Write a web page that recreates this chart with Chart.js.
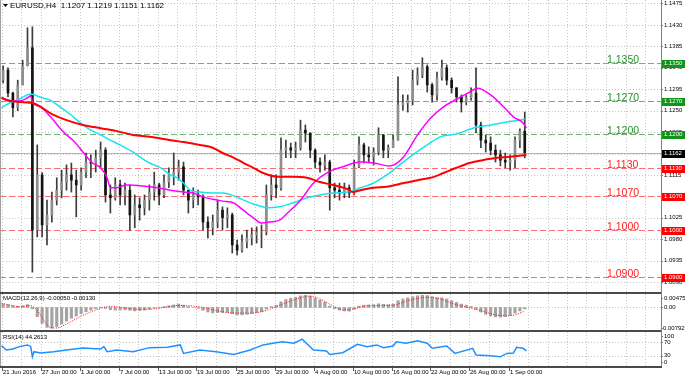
<!DOCTYPE html>
<html><head><meta charset="utf-8">
<script src="https://cdn.jsdelivr.net/npm/chart.js@4.4.1/dist/chart.umd.min.js"></script>
<style>
html,body{margin:0;padding:0;background:#fff;overflow:hidden}
#wrap{position:relative;width:685px;height:377px;background:#fff}
canvas{position:absolute;left:0}
</style></head><body>
<div id="wrap">
<canvas id="cMain" style="top:0px" width="685" height="294"></canvas>
<canvas id="cMacd" style="top:294px" width="685" height="38"></canvas>
<canvas id="cRsi" style="top:332px" width="685" height="45"></canvas>
</div>
<script>
// ---------------- DATA ----------------
const symbolTitle = 'EURUSD,H4  1.1207 1.1219 1.1151 1.1162';
const macdTitle = 'MACD(12,26,9) -0.00050 -0.00130';
const rsiTitle = 'RSI(14) 44.2613';

// 12-hour candles (3 H4 bars each), 21 Jun 2016 -> 2 Sep 2016
const opens = [1.1314,1.1335,1.1287,1.1256,1.1304,1.1344,1.1382,1.0999,1.1115,1.1010,
 1.1031,1.1062,1.1083,1.1100,1.1115,1.1104,1.1094,1.1121,1.1142,1.1140,
 1.1151,1.1167,1.1073,1.1067,1.1094,1.1073,1.1083,1.1031,1.1052,1.1046,
 1.1062,1.1079,1.1094,1.1073,1.1100,1.1115,1.1121,1.1132,1.1083,1.1062,
 1.1073,1.1069,1.1016,1.1004,1.1016,1.1041,1.1025,1.1031,1.0968,1.0957,
 1.0974,1.0983,1.0989,1.0995,1.0995,1.1073,1.1094,1.1088,1.1167,1.1172,
 1.1167,1.1172,1.1209,1.1203,1.1167,1.1142,1.1136,1.1142,1.1088,1.1083,
 1.1077,1.1088,1.1077,1.1132,1.1178,1.1157,1.1153,1.1163,1.1199,1.1167,
 1.1172,1.1188,1.1262,1.1266,1.1272,1.1314,1.1325,1.1342,1.1304,1.1283,
 1.1319,1.1340,1.1314,1.1298,1.1279,1.1268,1.1277,1.1287,1.1220,1.1188,
 1.1182,1.1167,1.1157,1.1146,1.1142,1.1146,1.1188,1.1207];
const highs = [1.1344,1.1340,1.1289,1.1314,1.1356,1.1424,1.1426,1.1178,1.1120,1.1062,
 1.1079,1.1109,1.1125,1.1136,1.1140,1.1125,1.1130,1.1161,1.1157,1.1167,
 1.1184,1.1172,1.1094,1.1109,1.1104,1.1098,1.1094,1.1073,1.1067,1.1073,
 1.1094,1.1121,1.1098,1.1115,1.1130,1.1161,1.1146,1.1142,1.1083,1.1088,
 1.1083,1.1073,1.1027,1.1031,1.1062,1.1048,1.1046,1.1035,1.0978,1.0989,
 1.0999,1.1004,1.1006,1.1010,1.1094,1.1115,1.1115,1.1193,1.1188,1.1182,
 1.1184,1.1230,1.1220,1.1203,1.1170,1.1151,1.1157,1.1146,1.1098,1.1098,
 1.1098,1.1094,1.1146,1.1195,1.1182,1.1174,1.1172,1.1214,1.1199,1.1178,
 1.1199,1.1321,1.1283,1.1283,1.1335,1.1340,1.1361,1.1346,1.1308,1.1331,
 1.1356,1.1346,1.1319,1.1298,1.1283,1.1283,1.1298,1.1340,1.1226,1.1199,
 1.1195,1.1178,1.1167,1.1161,1.1157,1.1195,1.1212,1.1247];
const lows = [1.1308,1.1279,1.1237,1.1250,1.1304,1.1344,1.0911,1.0985,1.0985,1.0968,
 1.1016,1.1052,1.1067,1.1083,1.1079,1.1027,1.1083,1.1109,1.1109,1.1121,
 1.1130,1.1058,1.1035,1.1062,1.1052,1.1052,1.0999,1.1004,1.1020,1.1031,
 1.1041,1.1062,1.1052,1.1067,1.1088,1.1094,1.1104,1.1073,1.1035,1.1046,
 1.1052,1.0999,1.0983,1.0989,1.1004,1.0999,1.1004,1.0951,1.0947,1.0953,
 1.0962,1.0968,1.0972,1.0962,1.0989,1.1062,1.1067,1.1083,1.1151,1.1151,
 1.1151,1.1167,1.1184,1.1151,1.1130,1.1121,1.1125,1.1041,1.1067,1.1062,
 1.1067,1.1067,1.1073,1.1130,1.1140,1.1142,1.1136,1.1157,1.1151,1.1151,
 1.1172,1.1188,1.1251,1.1247,1.1262,1.1304,1.1319,1.1289,1.1268,1.1272,
 1.1314,1.1304,1.1287,1.1268,1.1247,1.1262,1.1272,1.1203,1.1172,1.1163,
 1.1157,1.1142,1.1134,1.1130,1.1125,1.1130,1.1172,1.1151];
const closes = [1.1335,1.1287,1.1256,1.1304,1.1344,1.1382,1.0999,1.1115,1.1010,1.1031,
 1.1062,1.1083,1.1100,1.1115,1.1104,1.1094,1.1121,1.1142,1.1140,1.1151,
 1.1167,1.1073,1.1067,1.1094,1.1073,1.1083,1.1031,1.1052,1.1046,1.1062,
 1.1079,1.1094,1.1073,1.1100,1.1115,1.1121,1.1132,1.1083,1.1062,1.1073,
 1.1069,1.1016,1.1004,1.1016,1.1041,1.1025,1.1031,1.0968,1.0957,1.0974,
 1.0983,1.0989,1.0995,1.0995,1.1073,1.1094,1.1088,1.1167,1.1172,1.1167,
 1.1172,1.1209,1.1203,1.1167,1.1142,1.1136,1.1142,1.1088,1.1083,1.1077,
 1.1088,1.1077,1.1132,1.1178,1.1157,1.1153,1.1163,1.1199,1.1167,1.1172,
 1.1188,1.1262,1.1266,1.1272,1.1314,1.1325,1.1342,1.1304,1.1283,1.1319,
 1.1340,1.1314,1.1298,1.1279,1.1268,1.1277,1.1287,1.1220,1.1188,1.1182,
 1.1167,1.1157,1.1146,1.1142,1.1146,1.1188,1.1207,1.1162];

// moving averages, sampled at H4 bar indices
const slowMaBars = [0,5,19,32,40,50,61,71,81,91,104,112,122,130,136,143,149,155,161,171,179,188,196,204,213,216,221,229,237,245,256,264,272,280,288,296,305,313,323];
const slowMaVals = [1.1277,1.1270,1.1266,1.1241,1.1230,1.1220,1.1213,1.1207,1.1199,1.1195,1.1188,1.1184,1.1178,1.1172,1.1161,1.1151,1.1140,1.1130,1.1119,1.1111,1.1111,1.1109,1.1100,1.1094,1.1085,1.1079,1.1083,1.1088,1.1090,1.1096,1.1104,1.1109,1.1119,1.1130,1.1140,1.1146,1.1151,1.1153,1.1157];
const midMaBars = [0,5,11,18,24,30,36,42,48,55,61,67,73,81,85,91,98,104,108,112,116,122,130,136,143,149,155,161,163,171,179,188,196,204,213,221,229,237,245,253,262,270,280,290,301,311,322];
const midMaVals = [1.1256,1.1266,1.1274,1.1285,1.1278,1.1272,1.1258,1.1243,1.1226,1.1209,1.1199,1.1188,1.1178,1.1163,1.1153,1.1140,1.1130,1.1115,1.1109,1.1098,1.1083,1.1079,1.1077,1.1077,1.1071,1.1062,1.1054,1.1048,1.1046,1.1048,1.1056,1.1067,1.1073,1.1077,1.1079,1.1088,1.1098,1.1115,1.1136,1.1157,1.1178,1.1195,1.1201,1.1213,1.1220,1.1226,1.1232];
const fastMaBars = [0,5,11,16,18,19,24,28,32,36,40,44,48,53,56,61,65,67,71,77,87,96,104,112,118,124,130,136,143,147,151,155,160,165,171,176,184,192,200,210,221,229,239,247,256,264,272,280,288,293,301,309,315,321,323];
const fastMaVals = [1.1277,1.1272,1.1270,1.1277,1.1281,1.1268,1.1258,1.1245,1.1230,1.1213,1.1199,1.1188,1.1172,1.1151,1.1140,1.1130,1.1109,1.1088,1.1088,1.1094,1.1092,1.1088,1.1083,1.1079,1.1077,1.1069,1.1064,1.1060,1.1056,1.1046,1.1035,1.1025,1.1014,1.1016,1.1020,1.1035,1.1062,1.1098,1.1119,1.1132,1.1142,1.1140,1.1134,1.1151,1.1199,1.1234,1.1258,1.1274,1.1289,1.1297,1.1283,1.1258,1.1237,1.1224,1.1213];

// horizontal levels
const levelValues = [1.1350,1.1270,1.1200,1.1130,1.1070,1.1000,1.0900];
const levelKinds = ['res','res','res','sup','sup','sup','sup'];

// price axis
const priceTicks = [1.1475,1.1430,1.1385,1.1340,1.1295,1.1250,1.1205,1.1160,1.1115,1.1070,1.1025,1.0980,1.0935,1.0890];
const priceTop = 1.14823, priceBottom = 1.08692;

// MACD (one value per candle) and signal
const macdMain = [0.0012,0.0010,0.0006,0.0004,0.0006,0.0010,-0.0005,-0.0032,-0.0056,-0.0070,
 -0.0073,-0.0067,-0.0058,-0.0048,-0.0038,-0.0030,-0.0022,-0.0015,-0.0009,-0.0004,
 0.0001,-0.0003,-0.0008,-0.0009,-0.0009,-0.0008,-0.0010,-0.0012,-0.0011,-0.0009,
 -0.0006,-0.0002,0.0000,0.0003,0.0006,0.0009,0.0012,0.0008,0.0003,0.0000,
 -0.0003,-0.0010,-0.0016,-0.0019,-0.0018,-0.0018,-0.0017,-0.0022,-0.0026,-0.0026,
 -0.0024,-0.0021,-0.0018,-0.0015,-0.0005,0.0003,0.0008,0.0020,0.0028,0.0033,
 0.0036,0.0041,0.0043,0.0040,0.0033,0.0026,0.0019,0.0005,-0.0004,-0.0009,
 -0.0012,-0.0013,-0.0006,0.0005,0.0008,0.0009,0.0010,0.0013,0.0011,0.0010,
 0.0012,0.0024,0.0030,0.0034,0.0038,0.0041,0.0043,0.0042,0.0038,0.0035,
 0.0034,0.0030,0.0024,0.0018,0.0012,0.0008,0.0004,-0.0006,-0.0016,-0.0024,
 -0.0030,-0.0033,-0.0034,-0.0032,-0.0028,-0.0020,-0.0012,-0.0005];
const signalBars = [0,11,18,22,26,30,34,40,50,61,67,81,91,110,122,133,142,153,163,173,184,190,196,204,210,216,225,241,250,262,270,278,286,295,305,313,322];
const signalVals = [0.0015,0.0003,0.0006,-0.0010,-0.0045,-0.0070,-0.0072,-0.0058,-0.0028,-0.0003,0.0004,-0.0005,-0.0006,0.0007,0.0002,-0.0012,-0.0019,-0.0020,-0.0010,0.0012,0.0034,0.0040,0.0030,0.0006,-0.0009,-0.0006,0.0006,0.0008,0.0024,0.0036,0.0030,0.0013,0.0001,-0.0011,-0.0027,-0.0029,-0.0013];
const macdMax = 0.00475, macdMin = -0.00792;
const macdTickVals = [0.00475, 0, -0.00792];
const macdTickText = ['0.00475','0.00','-0.00792'];

// RSI
const rsiBars = [0,3,7,11,16,18,19,20,24,32,40,50,61,63,65,71,81,91,102,110,112,122,132,143,153,161,167,173,180,185,192,200,202,210,219,225,231,235,241,243,249,256,262,265,274,279,290,292,301,307,311,315,317,321,323];
const rsiVals = [59,47,50,57,62,57,27,42,38,42,47,53,50,57,42,47,42,54,55,62,37,47,42,34,47,62,67,71,67,79,47,44,34,39,64,57,62,54,59,71,67,74,67,52,59,37,52,32,30,27,37,38,55,52,44.26];
const rsiTicks = [100,70,30,0];
const rsiLevels = [70,30];

// time axis
const dateLabels = ['21 Jun 2016','27 Jun 00:00','1 Jul 00:00','7 Jul 00:00','13 Jul 00:00','19 Jul 00:00','25 Jul 00:00','29 Jul 00:00','4 Aug 00:00','10 Aug 00:00','16 Aug 00:00','22 Aug 00:00','26 Aug 00:00','1 Sep 00:00'];
const dateBars = [0,24,48,72,96,120,144,168,192,216,240,264,288,312];

// ---------------- STYLE / LAYOUT ----------------
const F = '"Liberation Sans", Arial, sans-serif';
const BAR_PX = 1.625, X0 = 1.5, PLOT_W = 661, AXIS_W = 24;
const xMin = -X0 / BAR_PX, xMax = xMin + PLOT_W / BAR_PX;
const BARS_PER_CANDLE = 3;
const candleBar = k => BARS_PER_CANDLE * k + 1;
const GRID = '#c6c6c6';
const SEP = '#4a4a4a';
const pts = (bs, vs) => bs.map((b, i) => ({x: b, y: vs[i]}));
const baseOpts = (padBottom, yMin, yMax) => ({
  responsive: false, animation: false, events: [],
  layout: {padding: {left: 0, right: AXIS_W, top: 0, bottom: padBottom}},
  plugins: {legend: {display: false}, tooltip: {enabled: false}},
  scales: {
    x: {type: 'linear', min: xMin, max: xMax, display: false, offset: false, grid: {offset: false}},
    y: {type: 'linear', min: yMin, max: yMax, display: false}
  }
});
function vGrid(ctx, xs, a) {
  ctx.save(); ctx.strokeStyle = GRID; ctx.lineWidth = 1; ctx.setLineDash([1, 2]);
  for (let b = 0; ; b += 12) {
    const px = Math.round(xs.getPixelForValue(b)) + 0.5;
    if (px > a.right - 2) break;
    ctx.beginPath(); ctx.moveTo(px, a.top); ctx.lineTo(px, a.bottom); ctx.stroke();
  }
  ctx.restore();
}
function hLine(ctx, a, py, color, dash) {
  ctx.save(); ctx.strokeStyle = color; ctx.lineWidth = 1; ctx.setLineDash(dash);
  py = Math.round(py) + 0.5;
  ctx.beginPath(); ctx.moveTo(a.left, py); ctx.lineTo(a.right, py); ctx.stroke();
  ctx.restore();
}
function axisFrame(ctx, a, h) {
  ctx.save();
  ctx.fillStyle = '#808080'; ctx.fillRect(a.right, 0, 1, h);
  ctx.fillStyle = '#a0a0a0'; ctx.fillRect(0, 0, 1, h);
  ctx.restore();
}
function axisText(ctx, txt, py, x0) {
  ctx.save(); ctx.font = '6px ' + F; ctx.fillStyle = '#000';
  ctx.textAlign = 'left'; ctx.textBaseline = 'middle';
  ctx.fillText(txt, x0 || 664, py);
  ctx.fillStyle = '#808080'; ctx.fillRect(661, Math.round(py), 2, 1);
  ctx.restore();
}

// ---------------- MAIN ----------------
const mainDeco = {
  id: 'mainDeco',
  beforeDatasetsDraw(chart) {
    const {ctx, chartArea: a, scales: {x, y}} = chart;
    vGrid(ctx, x, a);
    priceTicks.forEach(v => hLine(ctx, a, y.getPixelForValue(v), GRID, [1, 2]));
    hLine(ctx, a, y.getPixelForValue(closes[closes.length - 1]), '#b4b4b4', []);
    levelValues.forEach((v, i) => hLine(ctx, a, y.getPixelForValue(v), levelKinds[i] === 'res' ? '#6fb36f' : '#ff6e6e', [6, 3]));
  },
  afterDraw(chart) {
    const {ctx, chartArea: a, scales: {y}} = chart;
    axisFrame(ctx, a, chart.height);
    priceTicks.forEach(v => axisText(ctx, v.toFixed(4), y.getPixelForValue(v)));
    ctx.save();
    levelValues.forEach((v, i) => {
      const py = Math.round(y.getPixelForValue(v)) + 0.5;
      const res = levelKinds[i] === 'res';
      ctx.font = '10.5px ' + F; ctx.textBaseline = 'alphabetic'; ctx.textAlign = 'left';
      ctx.fillStyle = res ? '#23912b' : '#ff2020';
      ctx.fillText(v.toFixed(4), 607, py - 1);
      ctx.fillStyle = res ? '#12941a' : '#ff0000';
      ctx.fillRect(662, Math.round(py) - 4, 23, 8);
      ctx.font = '6px ' + F; ctx.fillStyle = '#fff'; ctx.textBaseline = 'middle';
      ctx.fillText(v.toFixed(4), 664, py);
    });
    const last = closes[closes.length - 1];
    const lp = Math.round(y.getPixelForValue(last)) + 0.5;
    ctx.fillStyle = '#000'; ctx.fillRect(662, Math.round(lp) - 4, 23, 8);
    ctx.font = '6px ' + F; ctx.fillStyle = '#fff'; ctx.textBaseline = 'middle';
    ctx.fillText(last.toFixed(4), 664, lp);
    ctx.fillStyle = '#000';
    ctx.beginPath(); ctx.moveTo(3, 4); ctx.lineTo(8, 4); ctx.lineTo(5.5, 7); ctx.closePath(); ctx.fill();
    ctx.font = '8px ' + F; ctx.textBaseline = 'middle';
    ctx.fillText(symbolTitle, 10, 6);
    ctx.fillStyle = SEP; ctx.fillRect(0, a.bottom, a.right, 2);
    ctx.restore();
  }
};
new Chart(document.getElementById('cMain'), {
  type: 'bar',
  data: {datasets: [
    {type: 'line', label: 'MA slow', data: pts(slowMaBars, slowMaVals), borderColor: '#ff0000', borderWidth: 2, pointRadius: 0, cubicInterpolationMode: 'monotone', order: 1},
    {type: 'line', label: 'MA fast', data: pts(fastMaBars, fastMaVals), borderColor: '#ff00ff', borderWidth: 1.5, pointRadius: 0, cubicInterpolationMode: 'monotone', order: 2},
    {type: 'line', label: 'MA mid', data: pts(midMaBars, midMaVals), borderColor: '#19e3f0', borderWidth: 1.5, pointRadius: 0, cubicInterpolationMode: 'monotone', order: 3},
    {type: 'bar', label: 'body', data: opens.map((o, k) => ({x: candleBar(k), y: [o, closes[k]]})),
      backgroundColor: c => (c.dataIndex !== undefined && closes[c.dataIndex] >= opens[c.dataIndex]) ? '#8e8e8e' : '#141414',
      barThickness: 2, grouped: false, order: 4},
    {type: 'bar', label: 'wick', data: lows.map((l, k) => ({x: candleBar(k), y: [l, highs[k]]})),
      backgroundColor: '#3c3c3c', barThickness: 1, grouped: false, order: 5}
  ]},
  options: baseOpts(2, priceBottom, priceTop),
  plugins: [mainDeco]
});

// ---------------- MACD ----------------
const macdDeco = {
  id: 'macdDeco',
  beforeDatasetsDraw(chart) {
    const {ctx, chartArea: a, scales: {x, y}} = chart;
    vGrid(ctx, x, a);
    hLine(ctx, a, y.getPixelForValue(0), GRID, [1, 2]);
  },
  afterDraw(chart) {
    const {ctx, chartArea: a, scales: {y}} = chart;
    axisFrame(ctx, a, chart.height);
    axisText(ctx, macdTickText[0], a.top + 4);
    axisText(ctx, macdTickText[1], y.getPixelForValue(macdTickVals[1]));
    axisText(ctx, macdTickText[2], a.bottom - 2, 661);
    ctx.save(); ctx.font = '6px ' + F; ctx.fillStyle = '#000'; ctx.textBaseline = 'middle';
    ctx.fillText(macdTitle, 3, 4);
    ctx.fillStyle = SEP; ctx.fillRect(0, a.bottom, a.right, 2);
    ctx.restore();
  }
};
new Chart(document.getElementById('cMacd'), {
  type: 'bar',
  data: {datasets: [
    {type: 'line', label: 'Signal', data: pts(signalBars, signalVals), borderColor: '#ff0000', borderWidth: 1, borderDash: [1, 1.5], pointRadius: 0, cubicInterpolationMode: 'monotone', order: 1},
    {type: 'bar', label: 'MACD', data: macdMain.map((v, k) => ({x: candleBar(k), y: v})), backgroundColor: '#a4a4a4', barThickness: 2.5, order: 2}
  ]},
  options: baseOpts(2, macdMin, macdMax),
  plugins: [macdDeco]
});

// ---------------- RSI ----------------
const rsiDeco = {
  id: 'rsiDeco',
  beforeDatasetsDraw(chart) {
    const {ctx, chartArea: a, scales: {x, y}} = chart;
    vGrid(ctx, x, a);
    rsiLevels.forEach(v => hLine(ctx, a, y.getPixelForValue(v), GRID, [1, 2]));
  },
  afterDraw(chart) {
    const {ctx, chartArea: a, scales: {x, y}} = chart;
    axisFrame(ctx, a, a.bottom);
    axisText(ctx, String(rsiTicks[0]), a.top + 4);
    axisText(ctx, String(rsiTicks[1]), y.getPixelForValue(rsiTicks[1]));
    axisText(ctx, String(rsiTicks[2]), y.getPixelForValue(rsiTicks[2]));
    axisText(ctx, String(rsiTicks[3]), a.bottom - 4);
    ctx.save(); ctx.font = '6px ' + F; ctx.fillStyle = '#000'; ctx.textBaseline = 'middle';
    ctx.fillText(rsiTitle, 3, 5);
    ctx.fillStyle = SEP; ctx.fillRect(0, a.bottom, a.right + 1, 2);
    ctx.textBaseline = 'top';
    dateBars.forEach((b, i) => {
      const px = Math.round(x.getPixelForValue(b));
      ctx.fillStyle = '#606060'; ctx.fillRect(px, a.bottom + 2, 1, 3);
      ctx.fillStyle = '#000'; ctx.fillText(dateLabels[i], px + 1, a.bottom + 3);
    });
    ctx.restore();
  }
};
new Chart(document.getElementById('cRsi'), {
  type: 'line',
  data: {datasets: [
    {label: 'RSI', data: pts(rsiBars, rsiVals), borderColor: '#1e90ff', borderWidth: 1.5, pointRadius: 0, tension: 0}
  ]},
  options: baseOpts(11, 0, 100),
  plugins: [rsiDeco]
});
</script>
</body></html>
